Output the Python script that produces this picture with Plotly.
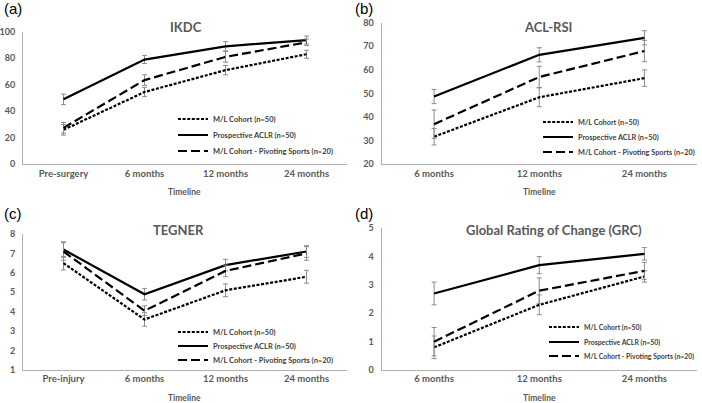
import plotly.graph_objects as go

W, H = 702, 403

series_names = ["M/L Cohort (n=50)", "Prospective ACLR (n=50)", "M/L Cohort - Pivoting Sports (n=20)"]

# IKDC
ikdc_cats = ["Pre-surgery", "6 months", "12 months", "24 months"]
ikdc_ml = [26, 54.5, 71, 83]
ikdc_ml_err = [4, 3.5, 3.5, 3]
ikdc_pro = [49, 79, 89, 93.7]
ikdc_pro_err = [4, 3, 3.5, 3]
ikdc_piv = [27.5, 63.5, 81, 92]
ikdc_piv_err = [4, 4, 4, 2.5]

# ACL-RSI
rsi_cats = ["6 months", "12 months", "24 months"]
rsi_ml = [31.7, 48.4, 56.5]
rsi_ml_err = [3.5, 4, 3.5]
rsi_pro = [48.7, 66.4, 73.6]
rsi_pro_err = [3, 3, 3]
rsi_piv = [37, 57, 68]
rsi_piv_err = [6, 4.5, 4.5]

# TEGNER
teg_cats = ["Pre-injury", "6 months", "12 months", "24 months"]
teg_ml = [6.5, 3.6, 5.1, 5.8]
teg_ml_err = [0.35, 0.35, 0.33, 0.33]
teg_pro = [7.2, 4.9, 6.4, 7.1]
teg_pro_err = [0.4, 0.3, 0.3, 0.3]
teg_piv = [7.1, 4.05, 6.1, 7.0]
teg_piv_err = [0.45, 0.25, 0.3, 0.35]

# GRC
grc_cats = ["6 months", "12 months", "24 months"]
grc_ml = [0.8, 2.3, 3.3]
grc_ml_err = [0.4, 0.35, 0.2]
grc_pro = [2.7, 3.7, 4.1]
grc_pro_err = [0.4, 0.3, 0.22]
grc_piv = [1.0, 2.8, 3.5]
grc_piv_err = [0.5, 0.45, 0.3]

panels = [
    dict(cats=ikdc_cats, data=[(ikdc_ml, ikdc_ml_err), (ikdc_pro, ikdc_pro_err), (ikdc_piv, ikdc_piv_err)],
         yr=[0, 100], dt=20, title="IKDC", lab="(a)",
         px=(23, 347), py=(31.7, 164.3), titlexy=(186, 27), legx=210, legy=(119, 135, 151), lfs=7.5),
    dict(cats=rsi_cats, data=[(rsi_ml, rsi_ml_err), (rsi_pro, rsi_pro_err), (rsi_piv, rsi_piv_err)],
         yr=[20, 80], dt=10, title="ACL-RSI", lab="(b)",
         px=(381.5, 697), py=(22.7, 164.3), titlexy=(548, 27), legx=575, legy=(122, 137, 152), lfs=7.3),
    dict(cats=teg_cats, data=[(teg_ml, teg_ml_err), (teg_pro, teg_pro_err), (teg_piv, teg_piv_err)],
         yr=[1, 8], dt=1, title="TEGNER", lab="(c)",
         px=(23, 347), py=(234, 370), titlexy=(178, 230), legx=210, legy=(332, 346, 360), lfs=7.5),
    dict(cats=grc_cats, data=[(grc_ml, grc_ml_err), (grc_pro, grc_pro_err), (grc_piv, grc_piv_err)],
         yr=[0, 5], dt=1, title="Global Rating of Change (GRC)", lab="(d)",
         px=(381.5, 697), py=(228.3, 370), titlexy=(554, 230), legx=581, legy=(327, 342, 356), lfs=6.9),
]

dashes = ["3px,1.6px", "solid", "9px,4px"]
TXT = "#595959"
FONT = "Lato"

fig = go.Figure()
layout = dict(width=W, height=H, margin=dict(l=0, r=0, t=0, b=0, autoexpand=False),
              paper_bgcolor="white", plot_bgcolor="white", showlegend=True,
              font=dict(family=FONT, color=TXT), annotations=[])

lgi = 0
for i, p in enumerate(panels):
    n = i + 1
    xa = "x" if n == 1 else f"x{n}"
    ya = "y" if n == 1 else f"y{n}"
    for k, (vals, errs) in enumerate(p["data"]):
        lgi += 1
        lg = "legend" if lgi == 1 else f"legend{lgi}"
        fig.add_trace(go.Scatter(
            x=p["cats"], y=vals, mode="lines", name=series_names[k],
            line=dict(color="black", width=2.2, dash=dashes[k]),
            error_y=dict(type="data", array=errs, visible=True, color="#8c8c8c", thickness=1, width=2.5),
            xaxis=xa, yaxis=ya, legend=lg, showlegend=True))
        layout[lg] = dict(x=(p["legx"] - 37) / W, y=1 - p["legy"][k] / H, xanchor="left", yanchor="middle",
                          bgcolor="rgba(0,0,0,0)", borderwidth=0,
                          font=dict(size=p["lfs"], color="#404040", family=FONT, weight="bold"),
                          itemwidth=30)
    xd = [p["px"][0] / W, p["px"][1] / W]
    yd = [1 - p["py"][1] / H, 1 - p["py"][0] / H]
    layout["xaxis" if n == 1 else f"xaxis{n}"] = dict(
        domain=xd, anchor=ya, type="category", range=[-0.5, len(p["cats"]) - 0.5],
        showline=True, linecolor="#b0b0b0", linewidth=1, showgrid=False, ticks="",
        tickfont=dict(size=9.5, color=TXT, family=FONT, weight="bold"), zeroline=False)
    layout["yaxis" if n == 1 else f"yaxis{n}"] = dict(
        domain=yd, anchor=xa, range=p["yr"], dtick=p["dt"],
        showline=True, linecolor="#b0b0b0", linewidth=1, showgrid=False, ticks="",
        ticklabelstandoff=5,
        tickfont=dict(size=9, color=TXT, family=FONT, weight="bold"), zeroline=False)
    cx = (xd[0] + xd[1]) / 2
    layout["annotations"].append(dict(text="<b>%s</b>" % p["title"], x=p["titlexy"][0] / W, y=1 - p["titlexy"][1] / H,
                                      xref="paper", yref="paper", showarrow=False, xanchor="center", yanchor="middle",
                                      font=dict(size=13, color=TXT, family=FONT)))
    layout["annotations"].append(dict(text="<b>Timeline</b>", x=cx, y=1 - (p["py"][1] + 28) / H,
                                      xref="paper", yref="paper", showarrow=False, xanchor="center", yanchor="middle",
                                      font=dict(size=8.5, color=TXT, family=FONT)))
    lx = 2 if n in (1, 3) else 353
    ly = 9 if n in (1, 2) else 213
    layout["annotations"].append(dict(text=p["lab"], x=lx / W, y=1 - ly / H, xref="paper", yref="paper",
                                      xanchor="left", yanchor="middle", showarrow=False,
                                      font=dict(size=15, color="black", family="Liberation Sans")))

fig.update_layout(**layout)
fig.write_html("out.html")
